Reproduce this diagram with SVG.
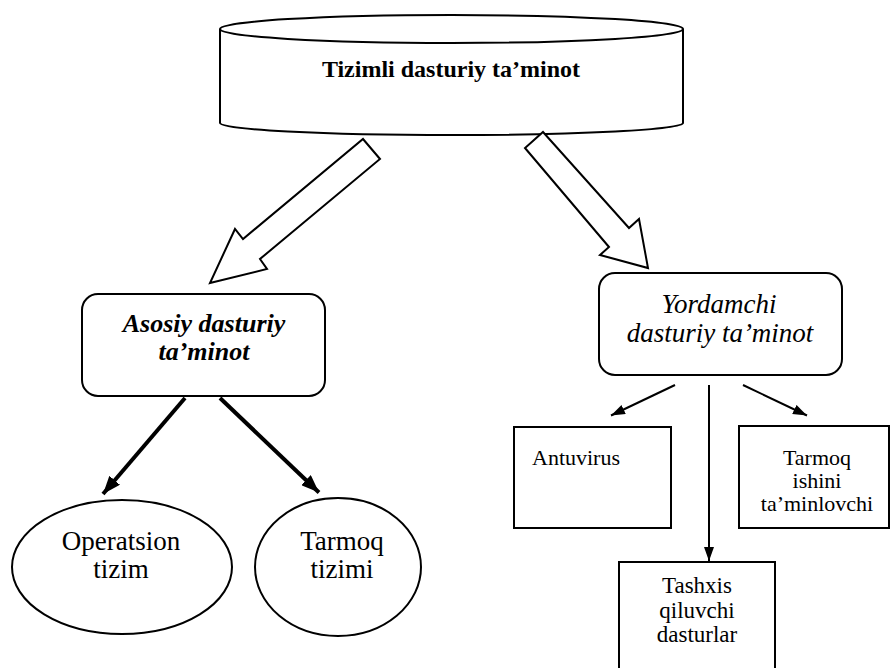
<svg xmlns="http://www.w3.org/2000/svg" width="891" height="668" viewBox="0 0 891 668">
<style>
.s{fill:#fff;stroke:#000;stroke-width:2}
.c{stroke:#000;fill:none}
text{font-family:"Liberation Serif","Times New Roman",serif;fill:#000}
</style>
<defs>
<marker id="hk" markerUnits="userSpaceOnUse" markerWidth="20" markerHeight="14" refX="18" refY="7" orient="auto"><path d="M0,0 L18,7 L0,14 z" fill="#000"/></marker>
<marker id="hn" markerUnits="userSpaceOnUse" markerWidth="16" markerHeight="12" refX="14" refY="5" orient="auto"><path d="M0,0 L14,5 L0,10 z" fill="#000"/></marker>
</defs>
<rect width="891" height="668" fill="#fff"/>
<g id="tizimli">
<path class="s" d="M220,29 L220,123 A231.5,12 0 0 0 683,123 L683,29"/>
<ellipse class="s" cx="451.5" cy="29" rx="231.5" ry="14"/>
<text x="451" y="77" font-family="Liberation Serif" text-anchor="middle" font-size="24" font-weight="bold">Tizimli dasturiy ta’minot</text>
</g>
<g id="asosiy">
<rect class="s" x="82" y="294" width="243" height="102" rx="16"/>
<text x="204" y="332" font-family="Liberation Serif" text-anchor="middle" font-size="26" font-weight="bold" font-style="italic">Asosiy dasturiy</text>
<text x="204" y="360" font-family="Liberation Serif" text-anchor="middle" font-size="26" font-weight="bold" font-style="italic">ta’minot</text>
</g>
<g id="yordamchi">
<rect class="s" x="599" y="273" width="243" height="102" rx="16"/>
<text x="719" y="313" font-family="Liberation Serif" text-anchor="middle" font-size="27" font-style="italic">Yordamchi</text>
<text x="720" y="342" font-family="Liberation Serif" text-anchor="middle" font-size="27" font-style="italic">dasturiy ta’minot</text>
</g>
<g id="operatsion">
<ellipse class="s" cx="122" cy="567" rx="110" ry="67"/>
<text x="121" y="550" font-family="Liberation Serif" text-anchor="middle" font-size="27">Operatsion</text>
<text x="121" y="578" font-family="Liberation Serif" text-anchor="middle" font-size="27">tizim</text>
</g>
<g id="tarmoq-tizimi">
<ellipse class="s" cx="338" cy="567" rx="83" ry="69"/>
<text x="342" y="550" font-family="Liberation Serif" text-anchor="middle" font-size="27">Tarmoq</text>
<text x="342" y="578" font-family="Liberation Serif" text-anchor="middle" font-size="27">tizimi</text>
</g>
<g id="antuvirus">
<rect class="s" x="514" y="427" width="157" height="101"/>
<text x="532" y="465" font-family="Liberation Serif" font-size="22">Antuvirus</text>
</g>
<g id="tarmoq-ishini">
<rect class="s" x="739" y="426" width="150" height="102"/>
<text x="817" y="465" font-family="Liberation Serif" text-anchor="middle" font-size="22">Tarmoq</text>
<text x="817" y="488" font-family="Liberation Serif" text-anchor="middle" font-size="22">ishini</text>
<text x="817" y="511" font-family="Liberation Serif" text-anchor="middle" font-size="22">ta’minlovchi</text>
</g>
<g id="tashxis">
<rect class="s" x="619" y="562" width="156" height="120"/>
<text x="697" y="593" font-family="Liberation Serif" text-anchor="middle" font-size="23">Tashxis</text>
<text x="697" y="618" font-family="Liberation Serif" text-anchor="middle" font-size="23">qiluvchi</text>
<text x="697" y="642" font-family="Liberation Serif" text-anchor="middle" font-size="23">dasturlar</text>
</g>
<g id="connectors">
<polygon class="s" stroke-linejoin="miter" points="363,139 380,159 260,259 267,269 210,283 235,229 243,239"/>
<polygon class="s" stroke-linejoin="miter" points="543,132 629,228 639,219 648,268 600,255 609,247 525,148"/>
<line class="c" stroke-width="4" x1="185" y1="398" x2="103" y2="494" marker-end="url(#hk)"/>
<line class="c" stroke-width="4" x1="220" y1="398" x2="319" y2="492.5" marker-end="url(#hk)"/>
<line class="c" stroke-width="2" x1="675" y1="385" x2="611" y2="415.5" marker-end="url(#hn)"/>
<line class="c" stroke-width="2" x1="743" y1="385" x2="807" y2="415.5" marker-end="url(#hn)"/>
<line class="c" stroke-width="2" x1="709" y1="385" x2="709" y2="561" marker-end="url(#hn)"/>
</g>
</svg>
